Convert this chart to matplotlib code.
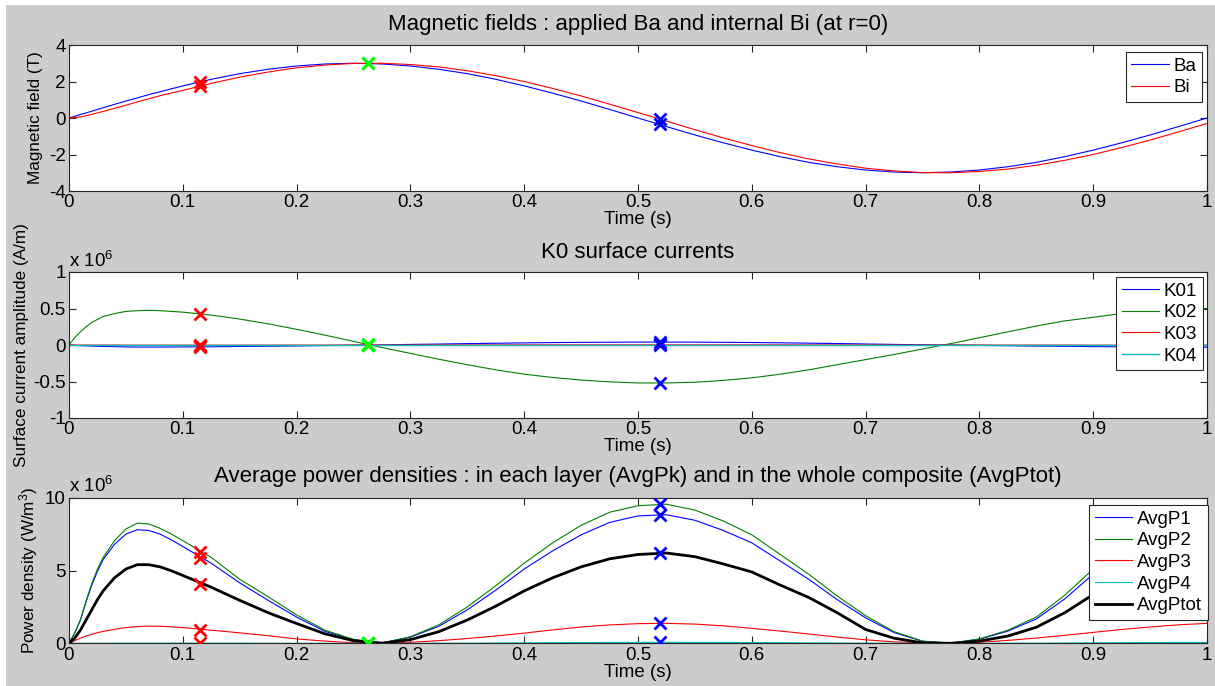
import matplotlib
matplotlib.use("Agg")
import matplotlib.pyplot as plt
from matplotlib.patches import Rectangle

plt.rcParams['font.family'] = ['Liberation Sans', 'DejaVu Sans']
plt.rcParams['mathtext.default'] = 'regular'

#### Data

# time (s), denser near the start where the transients are
t = [0, 0.005, 0.01, 0.015, 0.02, 0.025, 0.03, 0.04, 0.05, 0.06, 0.07, 0.08, 0.09,
     0.1, 0.125, 0.15, 0.175, 0.2, 0.225, 0.25, 0.275, 0.3, 0.325, 0.35, 0.375,
     0.4, 0.425, 0.45, 0.475, 0.5, 0.525, 0.55, 0.575, 0.6, 0.625, 0.65, 0.675,
     0.7, 0.725, 0.75, 0.775, 0.8, 0.825, 0.85, 0.875, 0.9, 0.925, 0.95, 0.975, 1.0]

# magnetic fields (T)
ba = [0, 0.09, 0.19, 0.28, 0.37, 0.47, 0.56, 0.75, 0.93, 1.10, 1.28, 1.44, 1.60,
      1.76, 2.12, 2.43, 2.67, 2.85, 2.96, 3.00, 2.96, 2.85, 2.67, 2.43, 2.12,
      1.76, 1.36, 0.93, 0.47, 0, -0.47, -0.93, -1.36, -1.76, -2.12, -2.43, -2.67,
      -2.85, -2.96, -3.00, -2.96, -2.85, -2.67, -2.43, -2.12, -1.76, -1.36, -0.93, -0.47, 0]
bi = [0, 0.02, 0.06, 0.12, 0.2, 0.28, 0.36, 0.53, 0.7, 0.88, 1.05, 1.22, 1.37,
      1.51, 1.90, 2.24, 2.52, 2.75, 2.90, 2.99, 3.00, 2.93, 2.80, 2.59, 2.32,
      2.00, 1.62, 1.21, 0.76, 0.30, -0.17, -0.64, -1.09, -1.51, -1.90, -2.24, -2.52,
      -2.75, -2.90, -2.99, -3.00, -2.93, -2.80, -2.59, -2.32, -2.00, -1.62, -1.21, -0.76, -0.30]

# surface currents (x 1e6 A/m)
k01 = [0, -0.005, -0.01, -0.012, -0.015, -0.018, -0.02, -0.023, -0.026, -0.028, -0.028, -0.028, -0.027,
       -0.026, -0.024, -0.02, -0.017, -0.013, -0.008, -0.004, 0.001, 0.008, 0.013, 0.019, 0.024,
       0.029, 0.033, 0.036, 0.038, 0.04, 0.04, 0.039, 0.037, 0.034, 0.03, 0.025, 0.02,
       0.014, 0.008, 0.003, -0.001, -0.006, -0.01, -0.015, -0.018, -0.022, -0.025, -0.027, -0.029, -0.03]
k02 = [0, 0.1, 0.18, 0.25, 0.31, 0.35, 0.39, 0.43, 0.46, 0.47, 0.475, 0.47, 0.46,
       0.45, 0.41, 0.355, 0.29, 0.215, 0.135, 0.05, -0.035, -0.115, -0.195, -0.27, -0.34,
       -0.40, -0.445, -0.48, -0.505, -0.52, -0.52, -0.51, -0.485, -0.45, -0.40, -0.34, -0.27,
       -0.20, -0.13, -0.055, 0.02, 0.10, 0.18, 0.26, 0.33, 0.38, 0.43, 0.47, 0.49, 0.50]
k03 = [0, 0, 0, 0, -0.001, -0.001, -0.001, -0.001, -0.002, -0.002, -0.002, -0.002, -0.002,
       -0.002, -0.002, -0.002, -0.001, -0.001, -0.001, 0, 0, 0, 0.001, 0.001, 0.001,
       0.002, 0.002, 0.002, 0.002, 0.002, 0.002, 0.002, 0.002, 0.002, 0.002, 0.001, 0.001,
       0.001, 0, 0, 0, 0, -0.001, -0.001, -0.001, -0.002, -0.002, -0.002, -0.002, -0.002]
k04 = [0, 0, 0, 0, 0, 0, 0, 0, 0, 0, 0, 0, 0,
       0, 0, 0, 0, 0, 0, 0, 0, 0, 0, 0, 0,
       0, 0, 0, 0, 0, 0, 0, 0, 0, 0, 0, 0,
       0, 0, 0, 0, 0, 0, 0, 0, 0, 0, 0, 0, 0]

# average power densities (x 1e6 W/m^3)
p1 = [0, 0.7, 1.6, 2.85, 4.0, 4.95, 5.75, 6.8, 7.5, 7.8, 7.75, 7.5, 7.1,
      6.65, 5.5, 4.15, 2.95, 1.8, 0.82, 0.24, 0.02, 0.42, 1.17, 2.3, 3.65,
      5.1, 6.35, 7.45, 8.3, 8.75, 8.83, 8.45, 7.75, 6.9, 5.65, 4.4, 3.0,
      1.75, 0.74, 0.14, 0.01, 0.28, 0.84, 1.67, 3.05, 4.75, 6.2, 7.4, 8.25, 8.72]
p2 = [0, 0.7, 1.6, 2.9, 4.1, 5.1, 5.9, 7.05, 7.85, 8.25, 8.2, 7.9, 7.5,
      7.05, 5.9, 4.4, 3.2, 1.95, 0.9, 0.27, 0.02, 0.45, 1.27, 2.5, 3.95,
      5.5, 6.9, 8.1, 9.0, 9.45, 9.55, 9.15, 8.4, 7.45, 6.1, 4.75, 3.25,
      1.9, 0.8, 0.15, 0.01, 0.3, 0.9, 1.8, 3.3, 5.1, 6.7, 8.0, 8.9, 9.45]
p3 = [0, 0.18, 0.35, 0.5, 0.62, 0.73, 0.82, 0.96, 1.08, 1.15, 1.18, 1.17, 1.13,
      1.08, 0.9, 0.72, 0.52, 0.3, 0.15, 0.04, 0.0, 0.07, 0.18, 0.33, 0.5,
      0.7, 0.92, 1.12, 1.26, 1.35, 1.37, 1.32, 1.2, 1.03, 0.84, 0.64, 0.43,
      0.24, 0.1, 0.03, 0.0, 0.07, 0.2, 0.36, 0.55, 0.75, 0.95, 1.12, 1.27, 1.37]
p4 = [0, 0, 0, 0, 0, 0, 0, 0.01, 0.01, 0.01, 0.01, 0.01, 0.01,
      0.01, 0.01, 0.01, 0, 0, 0, 0, 0, 0, 0.01, 0.01, 0.02,
      0.03, 0.04, 0.05, 0.06, 0.06, 0.07, 0.06, 0.06, 0.05, 0.04, 0.03, 0.02,
      0.01, 0.01, 0, 0, 0, 0.01, 0.01, 0.02, 0.03, 0.04, 0.05, 0.06, 0.06]
ptot = [0, 0.35, 0.9, 1.6, 2.3, 3.0, 3.6, 4.5, 5.1, 5.4, 5.4, 5.25, 4.98,
        4.66, 3.85, 2.95, 2.1, 1.36, 0.65, 0.18, 0.01, 0.25, 0.8, 1.6, 2.55,
        3.6, 4.5, 5.25, 5.8, 6.1, 6.2, 5.95, 5.45, 4.9, 4.0, 3.15, 2.1,
        0.95, 0.35, 0.03, 0.0, 0.15, 0.5, 1.1, 2.1, 3.35, 4.4, 5.25, 5.85, 6.12]

# the three instants that are marked with crosses
t_mark = [0.115, 0.263, 0.519]
mark_colours = ['#ff0000', '#00ff00', '#0000ff']
ba_mark = [1.98, 2.99, -0.35]
bi_mark = [1.75, 3.0, -0.06]
k01_mark = [-0.03, 0.0, 0.04]
k02_mark = [0.42, 0.01, -0.52]
k03_mark = [-0.01, 0.0, 0.01]
k04_mark = [0.0, 0.0, 0.0]
p1_mark = [5.85, 0.0, 8.83]
p2_mark = [6.3, 0.0, 9.55]
p3_mark = [0.9, 0.0, 1.37]
p4_mark = [0.0, 0.0, 0.07]
ptot_mark = [4.1, 0.0, 6.2]

x_ticks = [0, 0.1, 0.2, 0.3, 0.4, 0.5, 0.6, 0.7, 0.8, 0.9, 1]
x_labels = ['0', '0.1', '0.2', '0.3', '0.4', '0.5', '0.6', '0.7', '0.8', '0.9', '1']

# matlab default colour order
C_BLUE = (0, 0, 1)
C_GREEN = (0, 0.5, 0)
C_RED = (1, 0, 0)
C_CYAN = (0, 0.75, 0.75)

FS = 13.5
YLAB_FS = 12.3
TITLE_FS = 16


def style_axes(ax, ylim, yticks, ylabels):
    ax.set_xlim(0, 1)
    ax.set_ylim(*ylim)
    ax.set_xticks(x_ticks)
    ax.set_xticklabels(x_labels)
    ax.set_yticks(yticks)
    ax.set_yticklabels(ylabels)
    ax.tick_params(direction='in', top=True, right=True, length=5, width=0.8,
                   labelsize=FS, pad=2.5, colors='#262626', labelcolor='black')
    for sp in ax.spines.values():
        sp.set_color('#262626')
        sp.set_linewidth(0.8)
    ax.set_xlabel('Time (s)', fontsize=FS, labelpad=0)


def draw_marks(ax, values_list):
    for values in values_list:
        for tm, v, c in zip(t_mark, values, mark_colours):
            ax.plot([tm], [v], 'x', color=c, ms=9, mew=2, zorder=5)


def legend(ax, anchor):
    leg = ax.legend(loc='upper right', bbox_to_anchor=anchor, fontsize=FS,
                    fancybox=False, framealpha=1, edgecolor='#262626',
                    handlelength=2.0, handletextpad=0.25, labelspacing=0.24,
                    borderpad=0.3, borderaxespad=0)
    leg.get_frame().set_linewidth(0.8)


fig = plt.figure(figsize=(12.15, 6.86), dpi=100, facecolor='white')
fig.patches.append(Rectangle((6 / 1215, 0), 1, 1 - 5 / 686, transform=fig.transFigure,
                             facecolor='#cccccc', edgecolor='none', zorder=-10))

left, width = 69 / 1215, 1138 / 1215
ax1 = fig.add_axes([left, 1 - 191 / 686, width, 146 / 686])
ax2 = fig.add_axes([left, 1 - 418 / 686, width, 146 / 686])
ax3 = fig.add_axes([left, 1 - 643.3 / 686, width, 145.6 / 686])

# top: applied and internal field
ax1.plot(t, ba, color=C_BLUE, lw=0.8, label='Ba')
ax1.plot(t, bi, color=C_RED, lw=0.8, label='Bi')
draw_marks(ax1, [ba_mark, bi_mark])
style_axes(ax1, (-4, 4), [-4, -2, 0, 2, 4], ['-4', '-2', '0', '2', '4'])
ax1.set_ylabel('Magnetic field (T)', fontsize=YLAB_FS, labelpad=4)
ax1.set_title('Magnetic fields : applied Ba and internal Bi (at r=0)', fontsize=TITLE_FS, pad=11)
legend(ax1, (0.9956, 0.952))

# middle: surface currents
ax2.plot(t, k01, color=C_BLUE, lw=0.8, label='K01')
ax2.plot(t, k02, color=C_GREEN, lw=0.8, label='K02')
ax2.plot(t, k03, color=C_RED, lw=0.8, label='K03')
ax2.plot(t, k04, color=C_CYAN, lw=1.0, label='K04')
draw_marks(ax2, [k01_mark, k02_mark, k03_mark, k04_mark])
style_axes(ax2, (-1, 1), [-1, -0.5, 0, 0.5, 1], ['-1', '-0.5', '0', '0.5', '1'])
ax2.set_ylabel('Surface current amplitude (A/m)', fontsize=YLAB_FS, labelpad=3)
ax2.set_title('K0 surface currents', fontsize=TITLE_FS, pad=10)
ax2.text(0, 1.01, r'x 10$^{6}$', transform=ax2.transAxes, fontsize=FS, va='bottom', ha='left')
legend(ax2, (0.9965, 0.966))

# bottom: power densities
ax3.plot(t, p1, color=C_BLUE, lw=0.8, label='AvgP1')
ax3.plot(t, p2, color=C_GREEN, lw=0.8, label='AvgP2')
ax3.plot(t, p3, color=C_RED, lw=0.8, label='AvgP3')
ax3.plot(t, p4, color=C_CYAN, lw=0.8, label='AvgP4')
ax3.plot(t, ptot, color='black', lw=2, label='AvgPtot')
draw_marks(ax3, [p1_mark, p2_mark, p3_mark, p4_mark, ptot_mark])
style_axes(ax3, (0, 10), [0, 5, 10], ['0', '5', '10'])
ax3.set_ylabel('Power density (W/m$^3$)', fontsize=YLAB_FS, labelpad=3)
ax3.set_title('Average power densities : in each layer (AvgPk) and in the whole composite (AvgPtot)',
              fontsize=TITLE_FS, pad=11)
ax3.text(0, 1.01, r'x 10$^{6}$', transform=ax3.transAxes, fontsize=FS, va='bottom', ha='left')
legend(ax3, (1.0006, 0.95))

fig.savefig('out.png', dpi=100, facecolor=fig.get_facecolor())
